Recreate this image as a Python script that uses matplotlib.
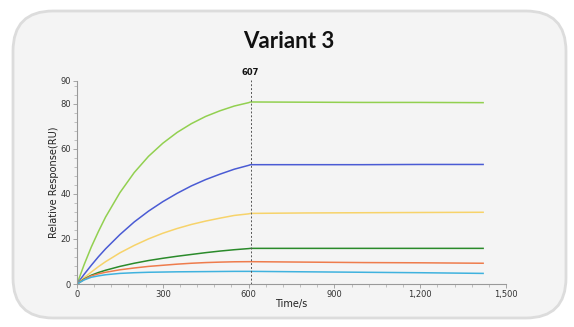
import matplotlib.pyplot as plt
from matplotlib.patches import FancyBboxPatch

# association phase
t_assoc = [0, 25, 50, 75, 100, 150, 200, 250, 300, 350, 400, 450, 500, 550, 600]
# dissociation phase
t_dissoc = [607, 800, 1000, 1200, 1420]

lime_assoc = [0, 8.6, 16.4, 23.3, 29.7, 40.5, 49.4, 56.6, 62.4, 67.2, 71.1, 74.3, 76.8, 78.9, 80.4]
lime_dissoc = [80.7, 80.6, 80.5, 80.5, 80.4]
blue_assoc = [0, 4.3, 8.3, 12.1, 15.6, 21.9, 27.5, 32.3, 36.5, 40.2, 43.5, 46.3, 48.7, 50.9, 52.6]
blue_dissoc = [52.9, 52.9, 52.9, 53.0, 53.0]
yellow_assoc = [0, 2.8, 5.3, 7.7, 9.9, 13.8, 17.1, 20.0, 22.5, 24.6, 26.4, 27.9, 29.2, 30.4, 31.1]
yellow_dissoc = [31.3, 31.5, 31.6, 31.7, 31.8]
dgreen_assoc = [0, 2.2, 3.9, 5.1, 6.1, 7.8, 9.2, 10.4, 11.4, 12.3, 13.1, 13.9, 14.6, 15.2, 15.7]
dgreen_dissoc = [15.8, 15.8, 15.8, 15.8, 15.8]
orange_assoc = [0, 2.0, 3.6, 4.5, 5.2, 6.3, 7.1, 7.8, 8.3, 8.8, 9.2, 9.5, 9.7, 9.85, 9.9]
orange_dissoc = [9.9, 9.7, 9.5, 9.4, 9.2]
cyan_assoc = [0, 1.8, 3.0, 3.6, 4.1, 4.7, 5.0, 5.2, 5.3, 5.4, 5.45, 5.5, 5.55, 5.6, 5.6]
cyan_dissoc = [5.6, 5.4, 5.2, 5.0, 4.7]

series = [
    (lime_assoc, lime_dissoc, '#92d050'),
    (blue_assoc, blue_dissoc, '#4a5bd4'),
    (yellow_assoc, yellow_dissoc, '#f7d36a'),
    (dgreen_assoc, dgreen_dissoc, '#2a8a2a'),
    (orange_assoc, orange_dissoc, '#ee7c4c'),
    (cyan_assoc, cyan_dissoc, '#3fb2de'),
]

marker_t = 607

fig = plt.figure(figsize=(5.74, 3.27), dpi=100)
fig.patch.set_facecolor('white')

# rounded card behind everything
card = FancyBboxPatch((13 / 574, 9 / 327), 553 / 574, 307 / 327,
                      boxstyle='round,pad=0,rounding_size=0.07',
                      transform=fig.transFigure, facecolor='#f4f4f4',
                      edgecolor='#dcdcdc', linewidth=2, mutation_aspect=574 / 327,
                      zorder=-10)
fig.patches.append(card)

fig.text(0.503, 0.873, 'Variant 3', ha='center', va='center', fontsize=16,
         family='Lato', weight='bold', color='#111111')

ax = fig.add_axes([77 / 574, 43 / 327, 429 / 574, 203 / 327])
ax.set_facecolor('none')

for a, d, c in series:
    ax.plot(t_assoc + t_dissoc, a + d, color=c, lw=1.1)

ax.plot([marker_t, marker_t], [0, 90.5], color='#555555', lw=0.7,
        ls=(0, (2, 2)), clip_on=False)
ax.text(marker_t, 91.6, str(marker_t), ha='center', va='bottom',
        fontsize=6, weight='bold', color='#111111')

ax.set_xlim(0, 1500)
ax.set_ylim(0, 90)
ax.set_xticks([0, 300, 600, 900, 1200, 1500])
ax.set_xticklabels(['0', '300', '600', '900', '1,200', '1,500'])
ax.set_xticks([m for m in range(60, 1500, 60) if m % 300], minor=True)
ax.set_yticks([0, 20, 40, 60, 80, 90])
ax.set_yticks([m for m in range(4, 90, 4) if m % 20], minor=True)

for s in ['top', 'right']:
    ax.spines[s].set_visible(False)
for s in ['left', 'bottom']:
    ax.spines[s].set_color('#999999')
    ax.spines[s].set_linewidth(0.8)

ax.tick_params(which='major', length=3, width=0.6, color='#999999',
               labelsize=6, labelcolor='#333333', pad=1.5)
ax.tick_params(which='minor', length=2, width=0.5, color='#aaaaaa')

ax.set_xlabel('Time/s', fontsize=7, color='#222222', labelpad=0)
ax.set_ylabel('Relative Response(RU)', fontsize=7, color='#222222')
ax.yaxis.set_label_coords(-0.041, 0.5)

fig.savefig('out.png', dpi=100)
